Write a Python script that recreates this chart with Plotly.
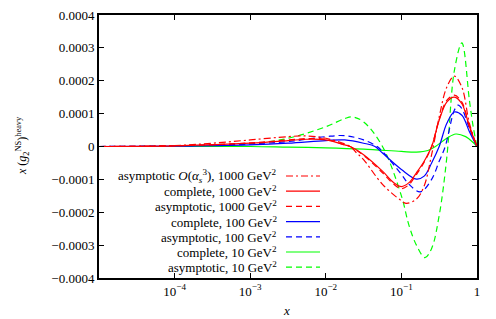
import plotly.graph_objects as go

# ---- data (x values, y values) ----
x_g10a = [1e-5, 1e-4, 1e-3, 3.16e-3, 0.01, 0.0178, 0.0224, 0.0316, 0.0562, 0.1, 0.126, 0.158, 0.205, 0.251, 0.316, 0.398, 0.501, 0.631, 0.794, 0.891, 1.0]
y_g10a = [0, 0.01e-4, 0.08e-4, 0.25e-4, 0.6e-4, 0.85e-4, 0.9e-4, 0.75e-4, 0.0, -1.5e-4, -2.4e-4, -3.0e-4, -3.38e-4, -3.1e-4, -2.1e-4, -0.35e-4, 2.3e-4, 3.15e-4, 1.4e-4, 0.6e-4, 0]

x_g10c = [1e-5, 1e-4, 1e-3, 3.16e-3, 0.01, 0.0316, 0.1, 0.158, 0.224, 0.282, 0.398, 0.525, 0.708, 0.891, 1.0]
y_g10c = [0, 0, 0, -0.02e-4, -0.04e-4, -0.08e-4, -0.15e-4, -0.17e-4, -0.12e-4, 0.0, 0.25e-4, 0.38e-4, 0.3e-4, 0.12e-4, 0]

x_b100a = [1e-5, 1e-4, 1e-3, 3.16e-3, 0.01, 0.0178, 0.0316, 0.0479, 0.0562, 0.1, 0.126, 0.178, 0.251, 0.316, 0.38, 0.501, 0.562, 0.631, 0.794, 1.0]
y_b100a = [0, 0.02e-4, 0.08e-4, 0.15e-4, 0.3e-4, 0.33e-4, 0.2e-4, 0.0, -0.15e-4, -0.85e-4, -1.15e-4, -1.38e-4, -1.0e-4, -0.45e-4, 0.0, 1.1e-4, 1.26e-4, 1.15e-4, 0.55e-4, 0]

x_b100c = [1e-5, 1e-4, 1e-3, 3.16e-3, 0.01, 0.0178, 0.0316, 0.0447, 0.0562, 0.1, 0.158, 0.2, 0.251, 0.316, 0.398, 0.501, 0.631, 0.794, 1.0]
y_b100c = [0, 0.01e-4, 0.05e-4, 0.1e-4, 0.18e-4, 0.2e-4, 0.1e-4, 0.0, -0.2e-4, -0.7e-4, -0.99e-4, -0.9e-4, -0.5e-4, 0.0, 0.7e-4, 1.05e-4, 0.95e-4, 0.45e-4, 0]

x_r1000a = [1e-5, 1e-4, 1e-3, 3.16e-3, 5.6e-3, 0.01, 0.0178, 0.021, 0.0316, 0.0562, 0.0794, 0.1, 0.126, 0.158, 0.2, 0.251, 0.316, 0.398, 0.501, 0.631, 0.794, 1.0]
y_r1000a = [0, 0.02e-4, 0.11e-4, 0.2e-4, 0.24e-4, 0.22e-4, 0.05e-4, 0.0, -0.27e-4, -0.8e-4, -1.15e-4, -1.28e-4, -1.16e-4, -0.85e-4, -0.48e-4, 0.0, 0.82e-4, 1.4e-4, 1.56e-4, 1.35e-4, 0.62e-4, 0]

x_r1000c = [1e-5, 1e-4, 1e-3, 3.16e-3, 5.6e-3, 0.01, 0.0178, 0.021, 0.0316, 0.0562, 0.0794, 0.1, 0.126, 0.158, 0.2, 0.251, 0.316, 0.398, 0.501, 0.631, 0.794, 1.0]
y_r1000c = [0, 0.02e-4, 0.1e-4, 0.18e-4, 0.22e-4, 0.2e-4, 0.05e-4, 0.0, -0.25e-4, -0.75e-4, -1.1e-4, -1.22e-4, -1.1e-4, -0.8e-4, -0.45e-4, 0.0, 0.8e-4, 1.35e-4, 1.5e-4, 1.3e-4, 0.6e-4, 0]

x_r1000o3 = [1e-5, 1e-4, 3.16e-4, 1e-3, 3.16e-3, 5.6e-3, 0.01, 0.021, 0.0257, 0.0316, 0.0562, 0.1, 0.117, 0.158, 0.2, 0.251, 0.316, 0.398, 0.501, 0.631, 0.794, 1.0]
y_r1000o3 = [0, 0.03e-4, 0.1e-4, 0.2e-4, 0.3e-4, 0.32e-4, 0.25e-4, 0.0, -0.2e-4, -0.4e-4, -1.15e-4, -1.65e-4, -1.73e-4, -1.6e-4, -1.2e-4, -0.25e-4, 0.9e-4, 1.8e-4, 2.14e-4, 1.8e-4, 0.7e-4, 0]

labels = [
    "asymptotic <i>O</i>(<i>α</i><sub><i>s</i></sub><sup>3</sup>), 1000 GeV<sup>2</sup>",
    "complete, 1000 GeV<sup>2</sup>",
    "asymptotic, 1000 GeV<sup>2</sup>",
    "complete, 100 GeV<sup>2</sup>",
    "asymptotic, 100 GeV<sup>2</sup>",
    "complete, 10 GeV<sup>2</sup>",
    "asymptotic, 10 GeV<sup>2</sup>",
]
series_x = [x_r1000o3, x_r1000c, x_r1000a, x_b100c, x_b100a, x_g10c, x_g10a]
series_y = [y_r1000o3, y_r1000c, y_r1000a, y_b100c, y_b100a, y_g10c, y_g10a]
colors = ["#ff0000", "#ff0000", "#ff0000", "#0000ff", "#0000ff", "#00ff00", "#00ff00"]
dashes = ["7px,3px,2px,3px", "solid", "6px,4px", "solid", "6px,4px", "solid", "6px,4px"]

y_tickvals = [0.0004, 0.0003, 0.0002, 0.0001, 0, -0.0001, -0.0002, -0.0003, -0.0004]
y_ticktext = ["0.0004", "0.0003", "0.0002", "0.0001", "0", "−0.0001", "−0.0002", "−0.0003", "−0.0004"]
x_tickvals = [1e-4, 1e-3, 1e-2, 1e-1, 1]
x_ticktext = ["10<sup>−4</sup>", "10<sup>−3</sup>", "10<sup>−2</sup>", "10<sup>−1</sup>", "1"]
x_title = "<i>x</i>"
y_title = "<i>x</i> (<i>g</i><sub>2</sub><sup>NS</sup>)<sup>heavy</sup>"

FONT = "Liberation Serif, DejaVu Serif, serif"

fig = go.Figure()
order = [6, 5, 4, 3, 2, 1, 0]
for i in order:
    fig.add_trace(go.Scatter(
        x=series_x[i], y=series_y[i], mode="lines", line_shape="spline",
        line=dict(color=colors[i], width=1.2, dash=dashes[i]),
        showlegend=False, hoverinfo="skip"))

# manual gnuplot-style legend (text right-aligned, sample on the right)
L, T, W, H = 99, 15, 378, 263
def px(xp):
    return (xp - L) / W
def py(yp):
    return (T + H - yp) / H
row0, step = 176, 15.2
for k, lab in enumerate(labels):
    yy = row0 + k * step
    fig.add_annotation(x=px(279), y=py(yy), xref="paper", yref="paper", text=lab,
                       showarrow=False, xanchor="right", yanchor="middle",
                       font=dict(family=FONT, size=13, color="black"))
    fig.add_shape(type="line", xref="paper", yref="paper",
                  x0=px(286), x1=px(320), y0=py(yy), y1=py(yy),
                  line=dict(color=colors[k], width=1.2, dash=dashes[k]))

# axis titles
fig.add_annotation(x=px(286), y=py(310), xref="paper", yref="paper", text=x_title,
                   showarrow=False, xanchor="center", yanchor="middle",
                   font=dict(family=FONT, size=13, color="black"))
fig.add_annotation(x=px(22), y=py(146), xref="paper", yref="paper", text=y_title,
                   showarrow=False, xanchor="center", yanchor="middle", textangle=-90,
                   font=dict(family=FONT, size=12, color="black"))

fig.update_layout(
    width=496, height=319,
    margin=dict(l=L, r=496 - L - W, t=T, b=319 - T - H, autoexpand=False),
    paper_bgcolor="white", plot_bgcolor="white",
    font=dict(family=FONT, size=13, color="black"),
    xaxis=dict(type="log", range=[-5, 0], tickvals=x_tickvals, ticktext=x_ticktext,
               ticks="inside", ticklen=5, tickwidth=1, tickcolor="black",
               showline=True, linewidth=2, linecolor="black", mirror="ticks",
               showgrid=False, zeroline=False, automargin=False),
    yaxis=dict(range=[-0.0004, 0.0004], tickvals=y_tickvals, ticktext=y_ticktext,
               ticks="inside", ticklen=5, tickwidth=1, tickcolor="black",
               showline=True, linewidth=2, linecolor="black", mirror="ticks",
               showgrid=False, zeroline=False, automargin=False),
)

fig.write_html("out.html", config={"displayModeBar": False},
               post_script="document.body.style.margin='0px';document.body.style.overflow='hidden';")
